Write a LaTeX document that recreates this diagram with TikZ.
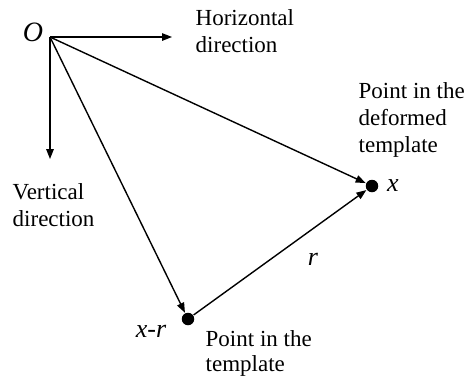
\documentclass[tikz,border=0pt]{standalone}
\usepackage{fontspec}
\setmainfont{Liberation Serif}
\usetikzlibrary{arrows.meta}
\begin{document}
\begin{tikzpicture}[x=1pt,y=-1pt, line width=1.4pt,
  arr/.style={-{Triangle[length=10pt,width=7.5pt]}},
  dot/.style={circle,fill,inner sep=0,minimum size=12.5pt},
  lab/.style={font=\fontsize{23}{27}\selectfont, inner sep=0, align=left, anchor=north west},
  sym/.style={font=\fontsize{26}{30}\selectfont\itshape, inner sep=0}]
\useasboundingbox (0,0) rectangle (467,376);
\coordinate (O) at (50,37);
\coordinate (H) at (172,37);
\coordinate (V) at (50,159);
\node[dot] (X) at (372,186) {};
\node[dot] (XR) at (188,319) {};
\draw[arr] (O) -- (H);
\draw[arr] (O) -- (V);
\draw[arr] (O) -- (X);
\draw[arr] (O) -- (XR);
\draw[arr] (XR) -- (X);
\node[sym, font=\fontsize{28}{30}\selectfont\itshape] (Olab) at (33,32) {O};
\node[sym] (xlab) at (393,186) {x};
\node[sym] (rlab) at (313,259) {r};
\node[sym] (xrlab) at (151,331) {x-r};
\node[lab] (hlab) at (195,9.3) {Horizontal\\direction};
\node[lab] (vlab) at (12,183.3) {Vertical\\direction};
\node[lab] (dlab) at (358,82.3) {Point in the\\deformed\\template};
\node[lab, font=\fontsize{23}{25}\selectfont] (tlab) at (205,329.5) {Point in the\\template};
\end{tikzpicture}
\end{document}
